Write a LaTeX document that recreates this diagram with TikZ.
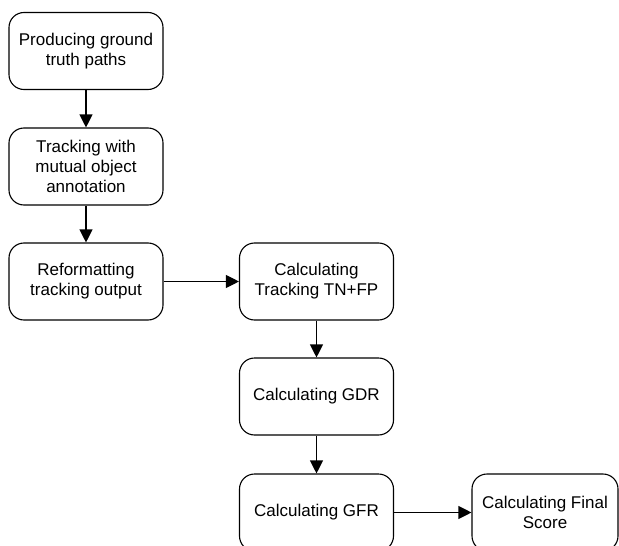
\documentclass[tikz,border=0pt]{standalone}
\usepackage{fontspec}
\setmainfont{Liberation Sans}
\usetikzlibrary{arrows.meta}
\begin{document}
\begin{tikzpicture}[x=1pt,y=-1pt,
  stepbox/.style={draw, line width=1.1pt, rounded corners=15pt,
    minimum width=154pt, minimum height=77pt, align=center,
    inner sep=2pt, font=\fontsize{17}{20}\selectfont},
  flow/.style={line width=1.1pt, -{Triangle[length=13pt,width=13pt]}}]
\useasboundingbox (0,0) rectangle (619,546);
\clip (0,0) rectangle (619,546);
\node[stepbox] (gt)    at (86,51)    {Producing ground\\truth paths};
\node[stepbox] (track) at (86,166.5) {Tracking with\\mutual object\\annotation};
\node[stepbox] (ref)   at (86,281.5) {Reformatting\\tracking output};
\node[stepbox] (tnfp)  at (316.5,281.5) {Calculating\\Tracking TN+FP};
\node[stepbox] (gdr)   at (316.5,396.5) {Calculating GDR};
\node[stepbox] (gfr)   at (316.5,512.5) {Calculating GFR};
\node[stepbox, minimum width=146pt] (final) at (545,512.5) {Calculating Final\\Score};
\draw[flow] (gt) -- (track);
\draw[flow] (track) -- (ref);
\draw[flow] (ref) -- (tnfp);
\draw[flow] (tnfp) -- (gdr);
\draw[flow] (gdr) -- (gfr);
\draw[flow] (gfr) -- (final);
\end{tikzpicture}
\end{document}
